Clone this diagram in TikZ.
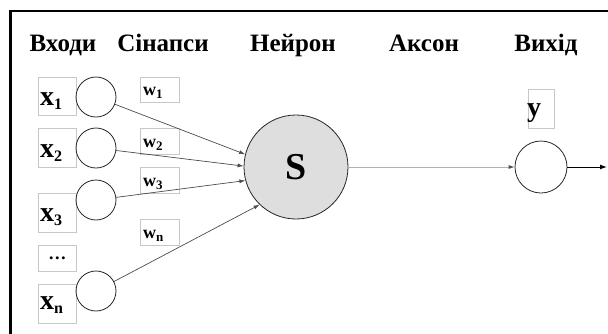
\documentclass[tikz,border=0pt]{standalone}
\usepackage{fontspec}
\setmainfont{Liberation Serif}
\usetikzlibrary{arrows.meta,calc}
\newcommand{\xsub}[1]{{\fontsize{16}{16}\selectfont\raisebox{-4pt}{#1}}}
\newcommand{\wsub}[1]{{\fontsize{13}{13}\selectfont\raisebox{-3.5pt}{#1}}}
\begin{document}
\begin{tikzpicture}[x=1pt,y=-1pt,
  lbox/.style={draw=black!22, line width=0.6pt, inner sep=0pt, anchor=north west},
  syn/.style={draw=black!85, line width=0.8pt, circle, inner sep=0pt, minimum size=40pt},
  ttl/.style={font=\fontsize{25}{28}\selectfont\bfseries, anchor=base, inner sep=0pt},
  xlab/.style={font=\fontsize{28}{32}\selectfont\bfseries, anchor=base west, inner sep=0pt},
  wlab/.style={font=\fontsize{18}{20}\selectfont\bfseries, anchor=base west, inner sep=0pt},
  con/.style={draw=black!70, line width=0.7pt, -{Latex[length=6pt,width=4pt]}},
]
\useasboundingbox (0,0) rectangle (608,333);
% frame
\coordinate (fb) at (10.5,334);
\coordinate (ftl) at (10.5,11);
\coordinate (fr) at (609,11);
\draw[line width=2.5pt] (fb) -- (ftl) -- (fr);
% titles
\node[ttl] (tin) at (63,51) {Входи};
\node[ttl] (tsyn) at (163,51) {Сінапси};
\node[ttl] (tneu) at (293,51) {Нейрон};
\node[ttl] (tax) at (424,51) {Аксон};
\node[ttl] (tout) at (546,51) {Вихід};
% input boxes
\node[lbox, minimum width=38, minimum height=38] (bx1) at (38,77) {};
\node[lbox, minimum width=38, minimum height=39] (bx2) at (38,128) {};
\node[lbox, minimum width=38, minimum height=39] (bx3) at (38,193) {};
\node[lbox, minimum width=38, minimum height=26] (bdots) at (38,245) {};
\node[lbox, minimum width=38, minimum height=39] (bxn) at (38,284) {};
\node[xlab] (lx1) at (40,105) {x\xsub{1}};
\node[xlab] (lx2) at (40,157) {x\xsub{2}};
\node[xlab] (lx3) at (40,221) {x\xsub{3}};
\node[xlab] (lxn) at (40,309) {x\xsub{n}};
\node[font=\fontsize{18}{20}\selectfont\bfseries, inner sep=0pt] (ldots) at (bdots.center) {…};
% weight boxes
\node[lbox, minimum width=39, minimum height=25] (bw1) at (140,77) {};
\node[lbox, minimum width=39, minimum height=26] (bw2) at (140,128) {};
\node[lbox, minimum width=39, minimum height=26] (bw3) at (140,167) {};
\node[lbox, minimum width=39, minimum height=26] (bwn) at (140,219) {};
\node[wlab] (lw1) at (143,95) {w\wsub{1}};
\node[wlab] (lw2) at (143,147) {w\wsub{2}};
\node[wlab] (lw3) at (143,186) {w\wsub{3}};
\node[wlab] (lwn) at (143,238) {w\wsub{n}};
% output label box
\node[lbox, minimum width=26, minimum height=39] (by) at (528,89) {};
\node[xlab] (ly) at (527,116) {y};
% synapse circles
\node[syn] (c1) at (96,97) {};
\node[syn] (c2) at (96,148) {};
\node[syn] (c3) at (96,200) {};
\node[syn] (cn) at (96,291) {};
% neuron
\node[circle, draw=black!85, line width=0.8pt, fill=black!13, minimum size=104pt, inner sep=0pt, font=\fontsize{38}{40}\selectfont\bfseries] (S) at (296,167) {S};
% output
\node[syn, minimum size=52pt] (out) at (541,167) {};
\coordinate (end) at (607,167);
% connectors
\draw[con] (c1) -- (S.166);
\draw[con] (c2) -- (S.179);
\draw[con] (c3) -- (S.195);
\draw[con] (cn) -- (S.226);
\draw[draw=black!30, line width=0.8pt, -{Latex[length=6pt,width=4pt,color=black!70]}] (S) -- (out);
\draw[black, line width=1pt, -{Latex[length=7pt,width=5pt]}] (out) -- (end);
\end{tikzpicture}
\end{document}
